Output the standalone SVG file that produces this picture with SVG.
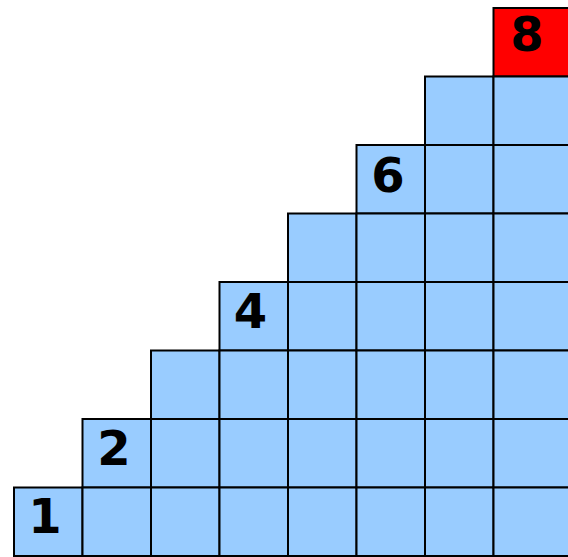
<svg xmlns="http://www.w3.org/2000/svg" width="568" height="557" viewBox="0 0 568 557">
<style>
.c{fill:#99CCFF;stroke:#000;stroke-width:2}
.r{fill:#FF0000;stroke:#000;stroke-width:2}
.t{font-family:"DejaVu Sans","Liberation Sans",sans-serif;font-weight:bold;font-size:48px;fill:#000;text-anchor:middle}
</style>
<rect width="568" height="557" fill="#fff"/>
<g id="col0">
<rect class="c" x="14" y="487.5" width="68.5" height="68.5"/>
</g>
<g id="col1">
<rect class="c" x="82.5" y="419" width="68.5" height="68.5"/>
<rect class="c" x="82.5" y="487.5" width="68.5" height="68.5"/>
</g>
<g id="col2">
<rect class="c" x="151" y="350.5" width="68.5" height="68.5"/>
<rect class="c" x="151" y="419" width="68.5" height="68.5"/>
<rect class="c" x="151" y="487.5" width="68.5" height="68.5"/>
</g>
<g id="col3">
<rect class="c" x="219.5" y="282" width="68.5" height="68.5"/>
<rect class="c" x="219.5" y="350.5" width="68.5" height="68.5"/>
<rect class="c" x="219.5" y="419" width="68.5" height="68.5"/>
<rect class="c" x="219.5" y="487.5" width="68.5" height="68.5"/>
</g>
<g id="col4">
<rect class="c" x="288" y="213.5" width="68.5" height="68.5"/>
<rect class="c" x="288" y="282" width="68.5" height="68.5"/>
<rect class="c" x="288" y="350.5" width="68.5" height="68.5"/>
<rect class="c" x="288" y="419" width="68.5" height="68.5"/>
<rect class="c" x="288" y="487.5" width="68.5" height="68.5"/>
</g>
<g id="col5">
<rect class="c" x="356.5" y="145" width="68.5" height="68.5"/>
<rect class="c" x="356.5" y="213.5" width="68.5" height="68.5"/>
<rect class="c" x="356.5" y="282" width="68.5" height="68.5"/>
<rect class="c" x="356.5" y="350.5" width="68.5" height="68.5"/>
<rect class="c" x="356.5" y="419" width="68.5" height="68.5"/>
<rect class="c" x="356.5" y="487.5" width="68.5" height="68.5"/>
</g>
<g id="col6">
<rect class="c" x="425" y="76.5" width="68.5" height="68.5"/>
<rect class="c" x="425" y="145" width="68.5" height="68.5"/>
<rect class="c" x="425" y="213.5" width="68.5" height="68.5"/>
<rect class="c" x="425" y="282" width="68.5" height="68.5"/>
<rect class="c" x="425" y="350.5" width="68.5" height="68.5"/>
<rect class="c" x="425" y="419" width="68.5" height="68.5"/>
<rect class="c" x="425" y="487.5" width="68.5" height="68.5"/>
</g>
<g id="col7">
<rect class="r" x="493.5" y="8" width="90" height="68.5"/>
<rect class="c" x="493.5" y="76.5" width="90" height="68.5"/>
<rect class="c" x="493.5" y="145" width="90" height="68.5"/>
<rect class="c" x="493.5" y="213.5" width="90" height="68.5"/>
<rect class="c" x="493.5" y="282" width="90" height="68.5"/>
<rect class="c" x="493.5" y="350.5" width="90" height="68.5"/>
<rect class="c" x="493.5" y="419" width="90" height="68.5"/>
<rect class="c" x="493.5" y="487.5" width="90" height="68.5"/>
</g>
<g id="labels">
<text class="t" x="45" y="533">1</text>
<text class="t" x="114" y="465">2</text>
<text class="t" x="250.5" y="328">4</text>
<text class="t" x="388" y="191.5">6</text>
<text class="t" x="527" y="51">8</text>
</g>
</svg>
